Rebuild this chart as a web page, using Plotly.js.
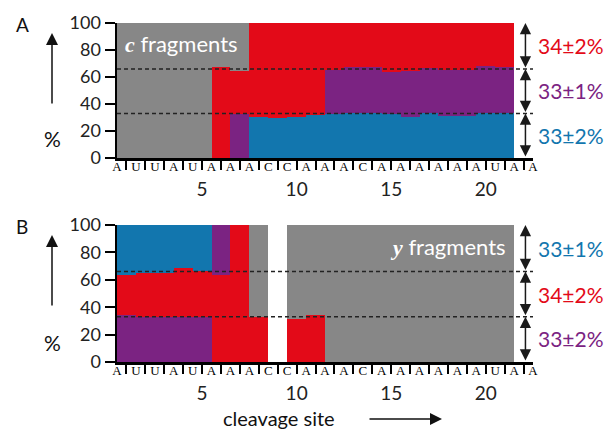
<!DOCTYPE html>
<html>
<head>
<meta charset="utf-8">
<script src="https://cdn.plot.ly/plotly-3.0.1.min.js"></script>
<style>
html,body{margin:0;padding:0;background:#fff;}
#chart{width:606px;height:431px;}
</style>
</head>
<body>
<div id="chart"></div>
<script>
// ---- data ----
const sites = [1,2,3,4,5,6,7,8,9,10,11,12,13,14,15,16,17,18,19,20,21];
const letters = ['A','U','U','A','U','A','A','A','C','C','A','A','A','C','A','A','A','A','A','A','U','A','A'];
const siteTicks = [5,10,15,20];

// Panel A: c fragments (stack bottom -> top: blue, purple, red, gray)
const cBlue   = [0,0,0,0,0,0,0,30.6,29.4,30.4,31.9,32.4,33.6,33,32.4,30.6,33,31.1,31.1,33,33];
const cPurple = [0,0,0,0,0,0,32.4,0,0,0,0,32.8,33.8,34.2,31.6,34.1,33.9,33.9,33.9,35.1,34.2];
const cRed    = [0,0,0,0,0,67.6,32,69.4,70.6,69.6,68.1,34.8,32.6,32.8,36,35.3,33.1,35,35,31.9,32.8];
const cGray   = [100,100,100,100,100,32.4,35.6,0,0,0,0,0,0,0,0,0,0,0,0,0,0];

// Panel B: y fragments (stack bottom -> top: purple, red, blue, purple(upper), gray)
const yPurple    = [34.3,32.8,32.8,32.8,32.8,0,0,0,0,0,0,0,0,0,0,0,0,0,0,0,0];
const yRed       = [29,32.4,32.4,36,33.6,63.5,100,33,0,31.4,34.3,0,0,0,0,0,0,0,0,0,0];
const yBlue      = [36.7,34.8,34.8,31.2,33.6,0,0,0,0,0,0,0,0,0,0,0,0,0,0,0,0];
const yPurpleTop = [0,0,0,0,0,36.5,0,0,0,0,0,0,0,0,0,0,0,0,0,0,0];
const yGray      = [0,0,0,0,0,0,0,67,0,68.6,65.7,100,100,100,100,100,100,100,100,100,100];

const bandLines = [33, 66];
const bandArrows = [[100,66],[66,33],[33,0]];
const labelsA = [{t:'34±2%', y:83.5, c:'#e30a18'},{t:'33±1%', y:50.2, c:'#7b2382'},{t:'33±2%', y:16.3, c:'#1276ae'}];
const labelsB = [{t:'33±1%', y:82.5, c:'#1276ae'},{t:'34±2%', y:49, c:'#e30a18'},{t:'33±2%', y:17.5, c:'#7b2382'}];

// ---- colours / fonts ----
const BLUE='#1276ae', PURPLE='#7b2382', RED='#e30a18', GRAY='#878787';
const SANS='Lato, "Noto Sans", sans-serif';
const SERIF='"Liberation Serif", "DejaVu Serif", serif';

function bar(y, color, xa, ya){
  return {type:'bar', x:sites, y:y, xaxis:xa, yaxis:ya, width:1,
          marker:{color:color, line:{width:0}}, hoverinfo:'skip', showlegend:false};
}
const traces = [
  bar(cBlue,BLUE,'x','y'), bar(cPurple,PURPLE,'x','y'), bar(cRed,RED,'x','y'), bar(cGray,GRAY,'x','y'),
  bar(yPurple,PURPLE,'x2','y2'), bar(yRed,RED,'x2','y2'), bar(yBlue,BLUE,'x2','y2'),
  bar(yPurpleTop,PURPLE,'x2','y2'), bar(yGray,GRAY,'x2','y2')
];

const XR=[0.5,22.5];
const XDOM=[117/606, 533/606];
const intTicks = Array.from({length:22},(_,i)=>i+1);
const letterPos = letters.map((_,i)=>i+0.5);

function mainX(anchor){
  return {domain:XDOM, range:XR, anchor:anchor, tickmode:'array', tickvals:intTicks,
    showticklabels:false, ticks:'outside', ticklen:9, tickwidth:2, tickcolor:'#000',
    showline:true, linewidth:2.5, linecolor:'#000', showgrid:false, zeroline:false, fixedrange:true};
}
function letterX(over, anchor){
  return {overlaying:over, anchor:anchor, range:XR, tickmode:'array', tickvals:letterPos, ticktext:letters,
    ticks:'', showline:false, showgrid:false, zeroline:false, ticklabelstandoff:-1,
    tickfont:{family:SERIF, size:13, color:'#000'}, fixedrange:true};
}
function numX(over, anchor){
  return {overlaying:over, anchor:anchor, range:XR, tickmode:'array', tickvals:siteTicks,
    ticktext:siteTicks.map(String), ticks:'', showline:false, showgrid:false, zeroline:false,
    ticklabelstandoff:18, tickfont:{family:SANS, size:19, color:'#222'}, fixedrange:true};
}
function yAx(dom, anchor){
  return {domain:dom, range:[0,100], anchor:anchor, tickmode:'array', tickvals:[0,20,40,60,80,100],
    ticks:'outside', ticklen:10, tickwidth:2, tickcolor:'#000', showline:true, linewidth:2.5,
    linecolor:'#000', showgrid:false, zeroline:false, tickfont:{family:SANS, size:18, color:'#222'},
    fixedrange:true};
}

const shapes = [];
[['x','y'],['x2','y2']].forEach(([xa,ya])=>{
  bandLines.forEach(v=>shapes.push({type:'line', xref:xa, yref:ya, x0:XR[0], x1:XR[1], y0:v, y1:v,
    layer:'above', line:{color:'#222', width:1.5, dash:'4px,3px'}}));
});

const ann = [];
const ARX = 22.1;
[['x','y'],['x2','y2']].forEach(([xa,ya])=>{
  bandArrows.forEach(([a,b])=>ann.push({xref:xa, yref:ya, axref:xa, ayref:ya, x:ARX, y:a, ax:ARX, ay:b,
    text:'', showarrow:true, arrowside:'end+start', arrowhead:2, startarrowhead:2,
    arrowsize:1.5, startarrowsize:1.5, arrowwidth:1.5, arrowcolor:'#1a1a1a', standoff:0, startstandoff:0}));
});
labelsA.forEach(l=>ann.push({xref:'paper', yref:'y', x:536/606, y:l.y, xanchor:'left', yanchor:'middle',
  text:l.t, showarrow:false, font:{family:SANS, size:21, color:l.c}}));
labelsB.forEach(l=>ann.push({xref:'paper', yref:'y2', x:536/606, y:l.y, xanchor:'left', yanchor:'middle',
  text:l.t, showarrow:false, font:{family:SANS, size:21, color:l.c}}));

ann.push({xref:'paper', yref:'y', x:123/606, y:85, xanchor:'left', yanchor:'middle', showarrow:false,
  text:'<span style="font-family:Liberation Serif"><b><i>c</i></b></span> fragments',
  font:{family:SANS, size:22, color:'#fff'}});
ann.push({xref:'paper', yref:'y2', x:508/606, y:84, xanchor:'right', yanchor:'middle', showarrow:false,
  text:'<span style="font-family:Liberation Serif"><b><i>y</i></b></span> fragments',
  font:{family:SANS, size:22, color:'#fff'}});

// panel letters, % and arrows
[['A',25,33,138],['B',227,235,342]].forEach(([t,ly,tip,py])=>{
  ann.push({xref:'paper', yref:'paper', x:22/606, y:1-ly/431, xanchor:'center', yanchor:'middle',
    text:t, showarrow:false, font:{family:SANS, size:19, color:'#111'}});
  ann.push({xref:'paper', yref:'paper', x:52/606, y:1-py/431, xanchor:'center', yanchor:'middle',
    text:'%', showarrow:false, font:{family:SANS, size:21, color:'#111'}});
  ann.push({xref:'paper', yref:'paper', x:52/606, y:1-tip/431, ax:0, ay:72, text:'', showarrow:true,
    arrowhead:2, arrowsize:1.6, arrowwidth:1.5, arrowcolor:'#111', standoff:0});
});
ann.push({xref:'paper', yref:'paper', x:279/606, y:1-418/431, xanchor:'center', yanchor:'middle',
  text:'cleavage site', showarrow:false, font:{family:SANS, size:20, color:'#111'}});
ann.push({xref:'paper', yref:'paper', x:442/606, y:1-419/431, ax:-74, ay:0, text:'', showarrow:true,
  arrowhead:2, arrowsize:1.6, arrowwidth:1.5, arrowcolor:'#111', standoff:0});

const layout = {
  width:606, height:431, margin:{l:0,r:0,t:0,b:0}, paper_bgcolor:'#fff', plot_bgcolor:'rgba(0,0,0,0)',
  barmode:'stack', bargap:0, showlegend:false,
  xaxis:mainX('y'), xaxis3:letterX('x','y'), xaxis4:numX('x','y'),
  xaxis2:mainX('y2'), xaxis5:letterX('x2','y2'), xaxis6:numX('x2','y2'),
  yaxis:yAx([(431-158)/431,(431-23)/431],'x'),
  yaxis2:yAx([(431-362)/431,(431-225)/431],'x2'),
  shapes:shapes, annotations:ann
};
// dummy traces so overlay axes are drawn
[['x3','y'],['x4','y'],['x5','y2'],['x6','y2']].forEach(([xa,ya])=>traces.push(
  {type:'scatter', x:[1], y:[null], xaxis:xa, yaxis:ya, mode:'markers', hoverinfo:'skip', showlegend:false}));

Plotly.newPlot('chart', traces, layout, {staticPlot:true, displayModeBar:false});
</script>
</body>
</html>
